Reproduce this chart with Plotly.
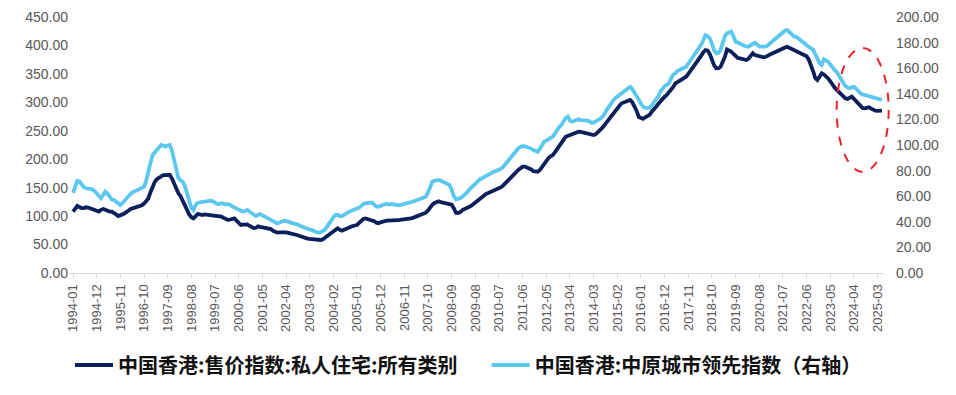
import plotly.graph_objects as go

# Monthly categories 1994-01 .. 2025-05
months = [f"{y}-{m:02d}" for y in range(1994, 2026) for m in range(1, 13)][:377]

# 中国香港:售价指数:私人住宅:所有类别 (left axis)
sale_index = [
    # 1994
    107.8, 113, 117.8, 116, 114, 114, 115.5, 115, 113.7, 112, 110, 108.5,
    # 1995
    108, 111, 112.5, 111, 109, 108, 107.8, 106, 103, 100.2, 101, 103,
    # 1996
    105, 108, 111, 113, 114, 115.5, 116, 117, 119, 122, 126, 131,
    # 1997
    142, 152, 160, 165, 168.5, 170, 172, 172.5, 172, 172.3, 166, 156,
    # 1998
    146, 140, 135, 126, 117, 110, 103, 98, 96, 100, 103.7, 103,
    # 1999
    102, 103, 102.5, 102, 102, 101.5, 101, 100.5, 100.2, 99, 97, 95,
    # 2000
    93.2, 94, 95.5, 96, 92, 88, 84.4, 85, 86, 85.5, 83, 81,
    # 2001
    79, 79.5, 82, 81, 80, 79, 78.6, 78, 77.3, 74, 71.5, 71,
    # 2002
    71.5, 72, 72.6, 71.5, 70.5, 70, 69, 68, 66.8, 65.5, 64, 62.5,
    # 2003
    61.5, 60.5, 60, 59.5, 59, 58.5, 58, 58, 59, 62, 64, 67,
    # 2004
    70, 73, 76, 78.6, 76, 74.4, 76, 78, 80, 81.4, 82.5, 83.5,
    # 2005
    84.4, 88, 92, 95, 96, 95, 94, 93.2, 91, 88.5, 87.4, 89,
    # 2006
    91, 91.4, 92, 92.5, 93, 93.2, 92.5, 93, 93.2, 93.5, 94, 94.5,
    # 2007
    95, 96, 97, 98.5, 100.2, 101.5, 103, 105, 106, 110, 116.5, 120,
    # 2008
    123, 125.3, 126, 124.5, 123.6, 123, 122.8, 122.5, 120, 114, 106, 105.5,
    # 2009
    107, 110.7, 112, 114, 116, 118, 121, 124, 127, 131, 134, 137.5,
    # 2010
    139, 140.5, 142, 144, 146, 148, 148.8, 151, 154, 158, 163.5, 167,
    # 2011
    170, 174, 178, 181, 184, 186.9, 187, 185.5, 184, 182, 179, 178,
    # 2012
    178, 181, 186, 191, 198.6, 202, 205, 207.4, 212, 218, 225, 229,
    # 2013
    234, 239.6, 241, 242, 242.6, 244, 246, 248.4, 248, 247, 246.6, 246,
    # 2014
    245, 244, 242.6, 244, 247, 251.4, 255, 260, 265, 269, 275, 281,
    # 2015
    286.5, 290, 294, 298.3, 300, 302, 304, 304.1, 300, 294, 285, 274,
    # 2016
    272, 271, 273.7, 275, 278, 283.5, 287, 292, 297, 302, 306, 310,
    # 2017
    313, 317, 322, 327, 333.4, 336, 338, 340, 342.2, 345, 350, 355,
    # 2018
    360, 365, 370, 375, 382, 388, 392, 391, 385, 375, 365, 359.8,
    # 2019
    360, 362.6, 370, 380, 393, 391, 389, 385, 380.2, 378, 377.4, 376,
    # 2020
    375, 374.4, 377, 381, 386.2, 383, 382, 381.4, 380, 379.2, 380, 383,
    # 2021
    384, 386, 388, 390, 392, 393.2, 395, 396.5, 397.8, 396, 394, 393.2,
    # 2022
    391, 389, 386.2, 385, 383.5, 381, 375, 366, 355, 343, 339.2, 345,
    # 2023
    351, 349, 346, 342, 337, 330.5, 326, 322, 318.7, 314, 310, 307,
    # 2024
    306, 308, 310, 306, 302, 298.3, 294, 290, 289.5, 290.5, 291.2, 289,
    # 2025
    287, 285.3, 285, 285.5, 285.3,
]

# 中国香港:中原城市领先指数 (right axis)
ccl_index = [
    # 1994
    62.7, 68, 72, 71.5, 69, 67, 66.2, 66, 65.5, 65.4, 64, 62.3,
    # 1995
    60.5, 58.4, 61, 63.5, 62, 59.5, 57.5, 57, 55.5, 54, 53.1, 54.5,
    # 1996
    57, 58.5, 60.5, 62.3, 63.5, 64, 64.8, 65.5, 66.5, 67.4, 72, 80.5,
    # 1997
    86, 92.2, 94, 96.1, 98, 100, 99.5, 98.7, 99.5, 100, 95.5, 89,
    # 1998
    80, 74, 72.5, 71.3, 68, 62, 55.7, 51, 49.2, 53, 54.9, 55.2,
    # 1999
    55.5, 55.7, 56, 56.3, 56.5, 56, 55, 53.9, 54, 54.5, 54, 53.9,
    # 2000
    53.9, 53.5, 52, 51.3, 50.5, 49.5, 48.5, 47.9, 48.5, 49.2, 48, 46.5,
    # 2001
    45.5, 44.5, 45.5, 46.1, 45, 44, 43.5, 42.5, 41.4, 40.5, 39.5, 38.8,
    # 2002
    39.5, 40.3, 40.9, 40.5, 40, 39.5, 39, 38.5, 38.3, 37.5, 36.5, 35.7,
    # 2003
    35.2, 34.9, 34, 33.5, 33, 32.5, 31.5, 31.8, 32.5, 33.6, 36, 39,
    # 2004
    41.5, 43.5, 45.3, 45.5, 44.5, 44.5, 45.5, 46.5, 47.9, 48.5, 49, 49.5,
    # 2005
    49.8, 51, 52.5, 54, 54.5, 55, 54.9, 54.9, 53.5, 52, 51.8, 52.5,
    # 2006
    53.5, 53.9, 54, 53.5, 53.9, 53.5, 53.2, 53, 53.1, 53.5, 54, 54.3,
    # 2007
    54.5, 55, 55.5, 56.2, 57, 57.5, 58, 59, 59.6, 63, 68, 71.3,
    # 2008
    72, 72.5, 72.7, 72, 71.3, 70.5, 69.5, 68.7, 65, 60, 57.6, 57.8,
    # 2009
    58.5, 59.6, 61, 62.5, 64.8, 66.5, 68.5, 70.5, 72, 73, 74, 75,
    # 2010
    76, 77, 78, 79.1, 79.5, 80, 80.5, 81.5, 83, 85, 87.5, 90,
    # 2011
    92, 94, 96.1, 97.5, 98.5, 99.2, 99, 98.6, 98.2, 97.2, 96, 95,
    # 2012
    94.8, 97, 100, 102.6, 103.5, 104.5, 105.5, 106.5, 109, 112, 114, 115.6,
    # 2013
    118, 121, 122.1, 119, 118.2, 119, 119.5, 120.1, 119.5, 119.5, 119.5, 119,
    # 2014
    118.5, 117.4, 117.5, 118.5, 119, 120.5, 122, 124, 127.3, 130, 132, 134.5,
    # 2015
    136.5, 137.5, 139, 140.4, 141.5, 143, 144.5, 145.5, 143.5, 141, 139, 135.5,
    # 2016
    132, 129.9, 129, 128.7, 129, 131, 133.5, 135.2, 138, 141.6, 144, 146,
    # 2017
    147, 148.2, 152, 155, 156, 158, 158.6, 159.5, 160.5, 161.2, 163.5, 166,
    # 2018
    168, 170.5, 172.9, 175.5, 178.5, 182, 185.9, 185, 183.4, 179, 174, 171.6,
    # 2019
    172, 174.2, 180, 185, 187.3, 188, 188.5, 185, 180.7, 180, 178.9, 178,
    # 2020
    177.5, 177, 176.8, 178, 179, 179.9, 178.5, 177, 176.8, 176.5, 176.8, 178,
    # 2021
    179.5, 181, 182, 183.5, 185, 186.7, 188.5, 189.5, 189.8, 188, 185.9, 185,
    # 2022
    184.5, 183.4, 182, 180.5, 179.5, 178, 176.5, 175.5, 174.5, 171, 167.7, 164,
    # 2023
    162.5, 166.9, 166, 165.1, 163, 160.5, 158.6, 157, 154, 150.8, 148, 146,
    # 2024
    145, 144.3, 145, 145.5, 144, 142, 140.4, 139.5, 139, 138.3, 138, 137.5,
    # 2025
    137.3, 137, 136.5, 135.8, 135.2,
]

tick_labels = months[0:375:11]

name_left = "中国香港:售价指数:私人住宅:所有类别"
name_right = "中国香港:中原城市领先指数（右轴）"

DARK = "#0B1F5B"
LIGHT = "#5CC8F0"
GRAY = "#595959"

fig = go.Figure()
fig.add_trace(go.Scatter(x=months, y=sale_index, mode="lines", name=name_left,
                         line=dict(color=DARK, width=3.8), yaxis="y", legend="legend"))
fig.add_trace(go.Scatter(x=months, y=ccl_index, mode="lines", name=name_right,
                         line=dict(color=LIGHT, width=3.8), yaxis="y2", legend="legend2"))

legend_font = dict(family="Noto Sans CJK SC", size=20, color="#111111", weight="bold")

# The page body adds an 8px offset, so the figure is sized to fit the window.
fig.update_layout(
    width=940, height=379,
    margin=dict(l=62, r=65, t=9, b=114),
    paper_bgcolor="white", plot_bgcolor="white",
    font=dict(family="Liberation Sans, Arial, sans-serif", color=GRAY),
    showlegend=True,
    legend=dict(orientation="h", x=0.0, xanchor="left",
                yref="container", y=0.058, yanchor="middle",
                font=legend_font, itemwidth=38, bgcolor="rgba(0,0,0,0)"),
    legend2=dict(orientation="h", x=0.5125, xanchor="left",
                 yref="container", y=0.058, yanchor="middle",
                 font=legend_font, itemwidth=38, bgcolor="rgba(0,0,0,0)"),
    xaxis=dict(type="category", range=[-1.4, 376.5], tickmode="array",
               tickvals=tick_labels, ticktext=tick_labels, tickangle=-90,
               tickfont=dict(size=13, color=GRAY), showgrid=False,
               showline=True, linecolor="#D9D9D9", linewidth=1,
               ticks="outside", ticklen=5, tickcolor="#D9D9D9", zeroline=False,
               automargin=False),
    yaxis=dict(range=[0, 450], dtick=50, tickformat=".2f", showgrid=False,
               zeroline=False, showline=False, ticks="", automargin=False,
               tickfont=dict(size=14, color=GRAY), ticklabelstandoff=1),
    yaxis2=dict(range=[0, 200], dtick=20, tickformat=".2f", overlaying="y",
                side="right", showgrid=False, zeroline=False, showline=False,
                ticks="", automargin=False,
                tickfont=dict(size=14, color=GRAY), ticklabelstandoff=12),
    shapes=[dict(type="circle", xref="paper", yref="paper",
                 x0=0.943, x1=1.007, y0=0.395, y1=0.879,
                 line=dict(color="#E8232A", width=2, dash="dash"))],
)

fig.write_html("out.html")
